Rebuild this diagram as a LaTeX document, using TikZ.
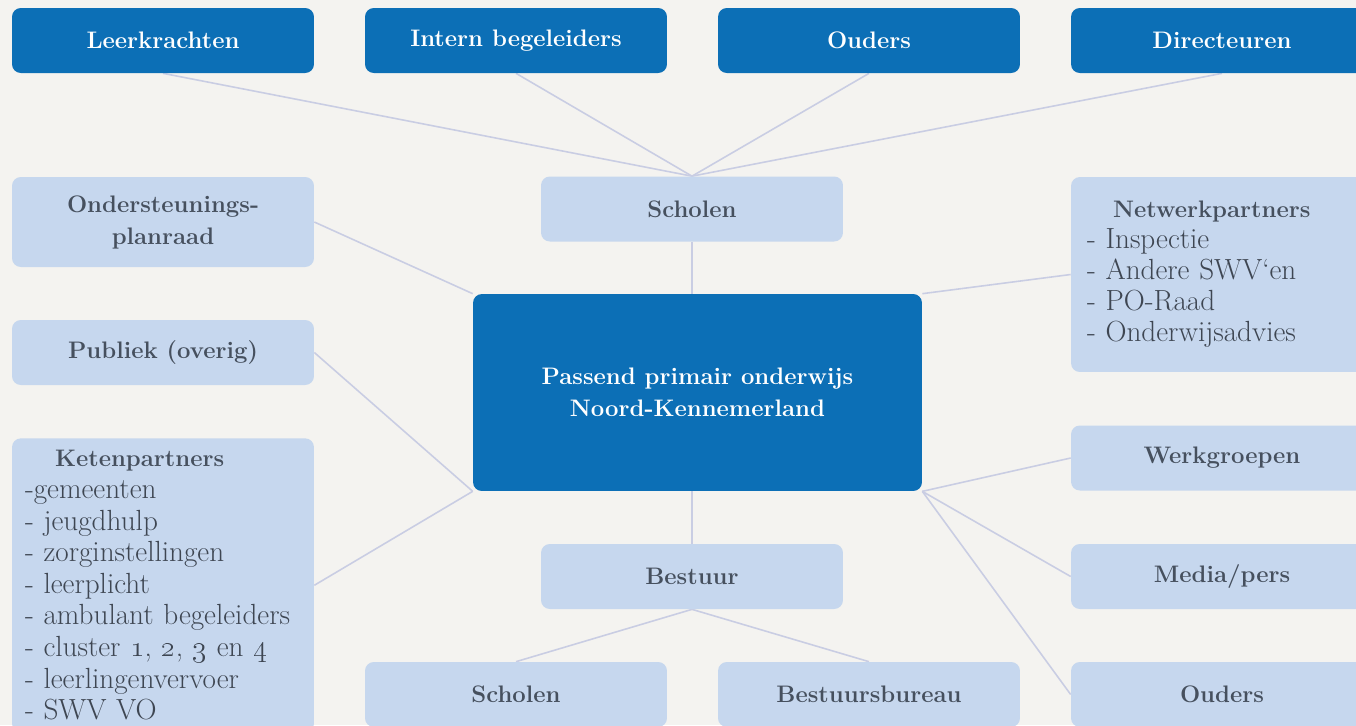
\documentclass[tikz,border=0pt]{standalone}
\usepackage{xcolor}
\usepackage{tikz}
\usetikzlibrary{positioning}
\pgfdeclarelayer{bglayer}
\pgfdeclarelayer{edgelayer}
\pgfdeclarelayer{nodelayer}
\pgfsetlayers{bglayer,edgelayer,nodelayer,main}
\definecolor{pagebg}{HTML}{F4F3F0}
\definecolor{darkblue}{HTML}{0C6FB6}
\definecolor{lightblue}{HTML}{C6D7EE}
\definecolor{boxtext}{HTML}{46505E}
\definecolor{listtext}{HTML}{3E4652}
\definecolor{linecol}{HTML}{C9CDE3}
\tikzset{
  darkbox/.style={rectangle, rounded corners=5pt, fill=darkblue, text=white,
    font=\bfseries\fontsize{13.6}{18.2}\selectfont, minimum width=6.04cm, minimum height=1.3cm, align=center},
  lightbox/.style={darkbox, fill=lightblue, text=boxtext},
  listbox/.style={lightbox, align=left, text width=5.4cm, inner xsep=0.3cm, text=listtext,
    font=\fontsize{16.6}{17.6}\selectfont},
  link/.style={draw=linecol, line width=0.9pt}
}
\newcommand{\lhead}[1]{{\bfseries\fontsize{13.6}{17.6}\selectfont\color{boxtext}#1}}

\begin{document}
\begin{tikzpicture}[x=0.02cm, y=-0.02cm]
  \useasboundingbox (0, 0) rectangle (1356, 725);
  \begin{pgfonlayer}{bglayer}
    \fill [pagebg] (0, 0) rectangle (1356, 725);
  \end{pgfonlayer}
  \begin{pgfonlayer}{nodelayer}
    \node [darkbox] (0) at (163, 40.5) {Leerkrachten};
    \node [darkbox] (1) at (516, 40.5) {Intern begeleiders};
    \node [darkbox] (2) at (869, 40.5) {Ouders};
    \node [darkbox] (3) at (1222, 40.5) {Directeuren};
    \node [lightbox] (4) at (692, 209) {Scholen};
    \node [lightbox, minimum height=1.8cm] (5) at (163, 222) {Ondersteunings-\\planraad};
    \node [listbox, minimum height=3.9cm] (6) at (1222, 274.5)
      {\hspace{0.52cm}\lhead{Netwerkpartners}\\
       - Inspectie\\ - Andere SWV`en\\ - PO-Raad\\ - Onderwijsadvies};
    \node [lightbox] (7) at (163, 352.5) {Publiek (overig)};
    \node [darkbox, minimum width=8.98cm, minimum height=3.94cm] (8) at (697.5, 392.5)
      {Passend primair onderwijs\\Noord-Kennemerland};
    \node [listbox, anchor=north, inner xsep=0.26cm, inner ysep=0.24cm, text width=5.52cm,
      font=\fontsize{16.6}{18}\selectfont] (9) at (163, 438)
      {\hspace{0.6cm}\lhead{Ketenpartners}\\
       -gemeenten\\ - jeugdhulp\\ - zorginstellingen\\ - leerplicht\\
       - ambulant begeleiders\\
       - cluster \oldstylenums{1}, \oldstylenums{2}, \oldstylenums{3} en \oldstylenums{4}\\
       - leerlingenvervoer\\ - SWV VO};
    \node [lightbox] (10) at (1222, 458) {Werkgroepen};
    \node [lightbox] (11) at (692, 576.5) {Bestuur};
    \node [lightbox] (12) at (1222, 576.5) {Media/pers};
    \node [lightbox] (13) at (516, 694.5) {Scholen};
    \node [lightbox] (14) at (869, 694.5) {Bestuursbureau};
    \node [lightbox] (15) at (1222, 694.5) {Ouders};
  \end{pgfonlayer}
  \begin{pgfonlayer}{edgelayer}
    \draw [link] (0.south) to (4.north);
    \draw [link] (1.south) to (4.north);
    \draw [link] (2.south) to (4.north);
    \draw [link] (3.south) to (4.north);
    \draw [link] (4.south) to (4.south |- 8.north);
    \draw [link] (5.east) to (8.north west);
    \draw [link] (7.east) to (8.south west);
    \draw [link] (9.east) to (8.south west);
    \draw [link] (6.west) to (8.north east);
    \draw [link] (10.west) to (8.south east);
    \draw [link] (12.west) to (8.south east);
    \draw [link] (15.west) to (8.south east);
    \draw [link] (11.north |- 8.south) to (11.north);
    \draw [link] (11.south) to (13.north);
    \draw [link] (11.south) to (14.north);
  \end{pgfonlayer}
\end{tikzpicture}
\end{document}
